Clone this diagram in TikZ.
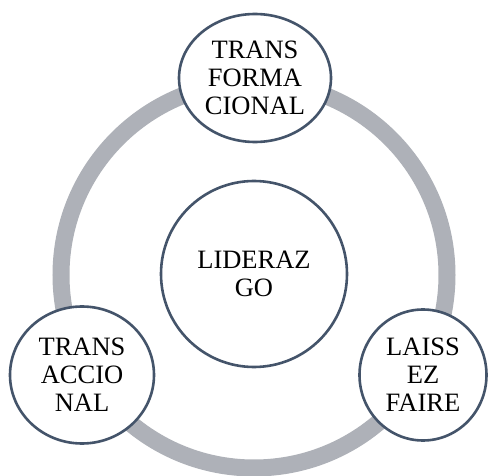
\documentclass[tikz,border=0pt]{standalone}
\usepackage{fontspec}
\setmainfont{Liberation Serif}
\usetikzlibrary{shapes.geometric}
\definecolor{rimblue}{HTML}{44546A}
\definecolor{ringgray}{HTML}{AEB1B8}

\begin{document}
\begin{tikzpicture}[x=1pt,y=1pt,
  bub/.style={draw=rimblue,line width=2.6pt,fill=white,ellipse,inner sep=0pt,align=center,
    font=\fontsize{26.5}{28}\selectfont},
  ring/.style={draw=ringgray,line width=17pt}]
\useasboundingbox[fill=white] (0,0) rectangle (488,475);
\coordinate (mid) at (254,200);
% gray ring behind the bubbles
\draw[ring] (mid) circle (193);
\node[bub,minimum size=186] (lid) at (254,201) {LIDERAZ\\GO};
\node[bub,minimum width=152,minimum height=128] (trf) at (255,397) {TRANS\\FORMA\\CIONAL};
\node[bub,minimum width=144,minimum height=137] (trc) at (82,100) {TRANS\\ACCIO\\NAL};
\node[bub,minimum width=127,minimum height=131] (lf) at (423,100) {LAISS\\EZ\\FAIRE};
\end{tikzpicture}
\end{document}
